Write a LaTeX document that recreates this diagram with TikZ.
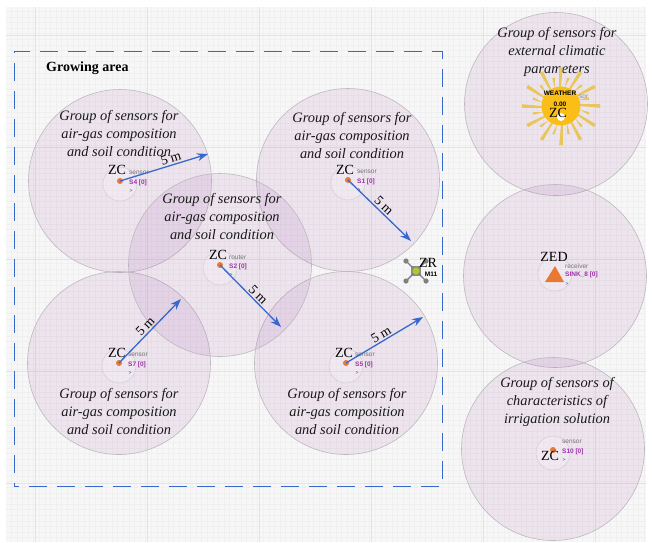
\documentclass[tikz,border=0pt]{standalone}
\usepackage{fontspec}
\setmainfont{Liberation Serif}
\setsansfont{Liberation Sans}
\usetikzlibrary{arrows.meta}
\definecolor{zonefill}{RGB}{150,70,160}
\definecolor{zoneline}{RGB}{190,185,190}
\definecolor{arrowblue}{RGB}{55,105,205}
\definecolor{dotorange}{RGB}{232,120,50}
\definecolor{tagpurple}{RGB}{160,50,170}
\definecolor{sunyellow}{RGB}{250,190,25}
\definecolor{rayyellow}{RGB}{232,198,90}
\tikzset{
    zone/.style={circle,draw=zoneline,fill=zonefill,fill opacity=0.1,minimum size=183pt,inner sep=0pt,line width=0.6pt},
    inner zone/.style={circle,draw=zoneline!70,fill=white,fill opacity=0.2,minimum size=34pt,inner sep=0pt,line width=0.5pt},
    sensordot/.style={circle,fill=dotorange,minimum size=6pt,inner sep=0pt},
    grouptext/.style={font=\fontsize{14.4}{18}\selectfont\itshape,align=center,text=black!90},
    zcname/.style={font=\fontsize{14}{14}\selectfont,inner sep=0pt},
    kindtext/.style={font=\sffamily\fontsize{6.5}{7}\selectfont,text=black!55,inner sep=0pt,anchor=west},
    tagtext/.style={font=\sffamily\bfseries\fontsize{6.5}{7}\selectfont,text=tagpurple,inner sep=0pt,anchor=west},
    rangearrow/.style={draw=arrowblue,line width=1.3pt,-{Stealth[length=11pt,width=8pt]}},
    rangetext/.style={font=\fontsize{13.5}{14}\selectfont,inner sep=1.5pt,above,sloped},
    carat/.style={font=\sffamily\fontsize{5}{5}\selectfont,text=arrowblue!70!black,inner sep=0pt}
}
\begin{document}
\begin{tikzpicture}[x=1pt,y=-1pt]
    \useasboundingbox (0,0) rectangle (652,542);
    % grid
    \fill[black!3] (6,7) rectangle (646,542);
    \draw[black!6,line width=0.25pt,step=5.6pt,yscale=-1] (6,-542) grid (646,-7);
    \draw[black!11,line width=0.35pt] (6,35) -- (646,35) (6,147) -- (646,147) (6,259) -- (646,259) (6,371) -- (646,371) (6,483) -- (646,483)
        (35,7) -- (35,542) (147,7) -- (147,542) (259,7) -- (259,542) (371,7) -- (371,542) (483,7) -- (483,542) (595,7) -- (595,542);
    % zones
    \node[zone] (zoneSfour) at (120,181) {};
    \node[zone] (zoneSone) at (348,180) {};
    \node[zone] (zoneSseven) at (119,363) {};
    \node[zone] (zoneSfive) at (346,363) {};
    \node[zone] (zoneStwo) at (220,265) {};
    \node[zone] (zoneWeather) at (556,104) {};
    \node[zone] (zoneSink) at (555,276) {};
    \node[zone] (zoneSten) at (553,449) {};
    % growing area
    \node[draw=arrowblue,line width=1pt,dash pattern=on 18pt off 10pt,dash phase=13pt,minimum width=428pt,minimum height=435pt,inner sep=0pt] (growing) at (228,268.5) {};
    \node[font=\fontsize{14}{16}\selectfont\bfseries,inner sep=0pt,anchor=west] (growinglabel) at (46,68) {Growing area};
    % group labels
    \node[grouptext] (textSfour) at (119,133) {Group of sensors for\\air-gas composition\\and soil condition};
    \node[grouptext] (textSone) at (352,135) {Group of sensors for\\air-gas composition\\and soil condition};
    \node[grouptext] (textStwo) at (222,216) {Group of sensors for\\air-gas composition\\and soil condition};
    \node[grouptext] (textSseven) at (119,411) {Group of sensors for\\air-gas composition\\and soil condition};
    \node[grouptext] (textSfive) at (347,411) {Group of sensors for\\air-gas composition\\and soil condition};
    \node[grouptext] (textWeather) at (557,52) {Group of sensors for\\external climatic\\parameters};
    \node[grouptext] (textSten) at (557,402) {Group of sensors of\\characteristics of\\irrigation solution};
    % sensors
    \foreach \dotname/\dotx/\doty/\kind/\tagname in {Sfour/120/181/sensor/S4 [0],Sone/348/180/sensor/S1 [0],Stwo/220/265/router/S2 [0],Sseven/119/363/sensor/S7 [0],Sfive/346/363/sensor/S5 [0],Sten/553/450/sensor/S10 [0]}{
        \node[inner zone] (ring\dotname) at (\dotx,\doty+3) {};
        \node[sensordot] (\dotname) at (\dotx,\doty) {};
        \node[kindtext] (kind\dotname) at (\dotx+9,\doty-8) {\kind};
        \node[tagtext] (tag\dotname) at (\dotx+9,\doty+2) {\tagname};
        \node[carat] (carat\dotname) at (\dotx+11,\doty+10) {>};
    }
    \node[zcname] (zcSfour) at (117,170) {ZC};
    \node[zcname] (zcSone) at (345,170) {ZC};
    \node[zcname] (zcStwo) at (218,255) {ZC};
    \node[zcname] (zcSseven) at (117,353) {ZC};
    \node[zcname] (zcSfive) at (344,353) {ZC};
    \node[zcname] (zcSten) at (550,456) {ZC};
    % range arrows
    \coordinate (endSfour) at (208,154);
    \coordinate (endSone) at (411,241);
    \coordinate (endStwo) at (281,327);
    \coordinate (endSseven) at (181,299);
    \coordinate (endSfive) at (423,317);
    \draw[rangearrow] (Sfour.center) -- node[rangetext,pos=0.6] {5 m} (endSfour);
    \draw[rangearrow] (Sone.center) -- node[rangetext,pos=0.5] {5 m} (endSone);
    \draw[rangearrow] (Stwo.center) -- node[rangetext,pos=0.55] {5 m} (endStwo);
    \draw[rangearrow] (Sseven.center) -- node[rangetext,pos=0.5] {5 m} (endSseven);
    \draw[rangearrow] (Sfive.center) -- node[rangetext,pos=0.5] {5 m} (endSfive);
    % weather station
    \foreach \ang in {0,30,...,330}{
        \fill[rayyellow] (561,106) ++(\ang+90:1.8pt) -- ++(\ang:39pt) -- ++(\ang+90:-3.6pt) -- cycle;
        \fill[rayyellow] (561,106) ++(\ang+15:19pt) ++(\ang+105:1.3pt) -- ++(\ang+15:10pt) -- ++(\ang+105:-2.6pt) -- cycle;
    }
    \node[circle,fill=sunyellow,minimum size=39pt,inner sep=0pt] (sun) at (561,106) {};
    \fill[white] (561,117) circle (4pt);
    \node[font=\sffamily\bfseries\fontsize{6.5}{7}\selectfont,inner sep=0pt] (weather) at (560,93) {WEATHER};
    \node[font=\sffamily\bfseries\fontsize{6.5}{7}\selectfont,inner sep=0pt] (weathervalue) at (560,104) {0.00};
    \node[zcname] (zcWeather) at (558,113) {ZC};
    \node[kindtext,text=black!45] (kindWeather) at (579,97) {sor};
    % receiver
    \node[inner zone] (ringSink) at (555,274) {};
    \fill[dotorange] (545,282) -- (555,266) -- (564,282) -- cycle;
    \node[zcname] (zedSink) at (554,257) {ZED};
    \node[kindtext] (kindSink) at (565,266) {receiver};
    \node[tagtext] (tagSink) at (565,275) {SINK\_8 [0]};
    \node[carat] (caratSink) at (567,284) {>};
    % router M11
    \coordinate (hubA) at (406,261);
    \coordinate (hubB) at (426,261);
    \coordinate (hubC) at (406,281);
    \coordinate (hubD) at (426,281);
    \node[fill=black!45,minimum size=10pt,inner sep=0pt] (hub) at (416,271) {};
    \draw[black!50,line width=1.4pt] (hubA) -- (hubD) (hubB) -- (hubC);
    \foreach \corner in {hubA,hubB,hubC,hubD}{
        \fill[black!50] (\corner) circle (2.6pt);
    }
    \node[circle,fill=black!15!yellow!75!green,minimum size=7pt,inner sep=0pt] (hubcore) at (416,271) {};
    \node[zcname] (zrHub) at (428,263) {ZR};
    \node[font=\sffamily\bfseries\fontsize{6.5}{7}\selectfont,inner sep=0pt] (hubname) at (431,274) {M11};
\end{tikzpicture}
\end{document}
